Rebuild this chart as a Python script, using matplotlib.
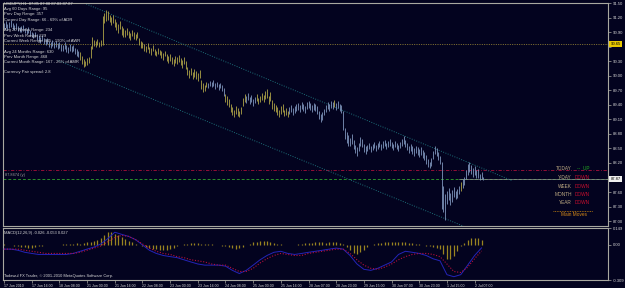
import matplotlib.pyplot as plt
from matplotlib.transforms import blended_transform_factory
import numpy as np

# ---------------- data ----------------
symbol_line = "USDJPY,H1  87.85 87.88 87.83 87.87"
info_lines = [
    ("Avg 60 Days Range: 95", 9),
    ("Prev Day Range: 357", 14.5),
    ("Current Day Range: 66 - 69% of ADR", 20),
    ("Avg 20 Weeks Range: 234", 30),
    ("Prev Week Range: 229", 35.5),
    ("Current Week Range: 445 - 190% of AWR", 41),
    ("Avg 24 Months Range: 630", 51.5),
    ("Prev Month Range: 468", 57),
    ("Current Month Range: 167 - 26% of AMR", 62.5),
    ("Currency Pair spread: 2.8", 72),
]

time_labels = ["17 Jun 2010", "17 Jun 16:00", "18 Jun 08:00", "21 Jun 00:00",
               "21 Jun 16:00", "22 Jun 08:00", "23 Jun 00:00", "23 Jun 16:00",
               "24 Jun 08:00", "25 Jun 00:00", "25 Jun 16:00", "28 Jun 07:00",
               "28 Jun 23:00", "29 Jun 15:00", "30 Jun 07:00", "30 Jun 23:00",
               "1 Jul 15:00", "2 Jul 07:00"]

highs = [
    91.08, 91.12, 91.06, 91.10, 91.14, 91.09, 91.05, 91.08, 91.03, 91.00,
    91.02, 91.05, 90.99, 90.97, 91.00, 90.94, 90.90, 90.88, 90.91, 90.86,
    90.84, 90.80, 90.83, 90.78, 90.75, 90.77, 90.72, 90.70, 90.74, 90.69,
    90.72, 90.68, 90.70, 90.66, 90.64, 90.69, 90.63, 90.60, 90.65, 90.62,
    90.64, 90.58, 90.55, 90.52, 90.48, 90.40, 90.34, 90.30, 90.36, 90.38,
    90.62, 90.79, 90.74, 90.72, 90.75, 90.70, 90.73, 91.24, 91.30, 91.35,
    91.33, 91.26, 91.22, 91.25, 91.18, 91.10, 91.06, 91.12, 91.02, 90.98,
    90.94, 90.98, 90.92, 90.88, 90.95, 90.90, 90.86, 90.91, 90.78, 90.72,
    90.70, 90.66, 90.62, 90.68, 90.60, 90.57, 90.63, 90.55, 90.52, 90.58,
    90.54, 90.50, 90.46, 90.52, 90.44, 90.40, 90.45, 90.38, 90.34, 90.40,
    90.38, 90.42, 90.36, 90.33, 90.39, 90.30, 90.18, 90.12, 90.16, 90.08,
    90.14, 90.10, 90.05, 90.12, 89.92, 89.85, 89.80, 89.88, 89.86, 89.90,
    89.87, 89.91, 89.84, 89.88, 89.82, 89.86, 89.80, 89.75, 89.62, 89.58,
    89.52, 89.42, 89.35, 89.30, 89.38, 89.33, 89.28, 89.36, 89.55, 89.62,
    89.58, 89.64, 89.56, 89.60, 89.52, 89.57, 89.62, 89.55, 89.59, 89.64,
    89.60, 89.68, 89.72, 89.58, 89.66, 89.50, 89.44, 89.40, 89.36, 89.30,
    89.38, 89.42, 89.30, 89.34, 89.28, 89.36, 89.40, 89.33, 89.38, 89.42,
    89.44, 89.40, 89.46, 89.42, 89.38, 89.45, 89.48, 89.43, 89.40, 89.44,
    89.42, 89.38, 89.28, 89.22, 89.26, 89.32, 89.40, 89.46, 89.42, 89.48,
    89.45, 89.50, 89.44, 89.47, 89.42, 89.40, 89.28, 88.92, 88.84, 88.78,
    88.72, 88.80, 88.68, 88.58, 88.52, 88.62, 88.74, 88.70, 88.60, 88.55,
    88.58, 88.62, 88.55, 88.60, 88.64, 88.57, 88.62, 88.66, 88.60, 88.65,
    88.68, 88.62, 88.66, 88.70, 88.64, 88.60, 88.66, 88.62, 88.58, 88.64,
    88.70, 88.75, 88.68, 88.62, 88.56, 88.60, 88.54, 88.50, 88.56, 88.52,
    88.48, 88.52, 88.46, 88.42, 88.36, 88.28, 88.22, 88.30, 88.45, 88.54,
    88.50, 88.42, 88.34, 88.22, 87.72, 87.55, 87.62, 87.68, 87.58, 87.64,
    87.70, 87.62, 87.66, 87.72, 87.80, 87.86, 87.92, 88.06, 88.18, 88.22,
    88.16, 88.10, 88.14, 88.05, 88.08, 87.98, 88.02, 87.92,
]
lows = [
    90.96, 90.98, 90.95, 90.99, 91.01, 90.96, 90.94, 90.97, 90.92, 90.90,
    90.91, 90.93, 90.88, 90.86, 90.89, 90.82, 90.79, 90.77, 90.80, 90.74,
    90.72, 90.68, 90.71, 90.66, 90.63, 90.65, 90.60, 90.58, 90.62, 90.57,
    90.60, 90.55, 90.58, 90.52, 90.50, 90.56, 90.49, 90.47, 90.52, 90.48,
    90.50, 90.45, 90.41, 90.38, 90.33, 90.24, 90.18, 90.20, 90.22, 90.26,
    90.36, 90.55, 90.62, 90.60, 90.63, 90.59, 90.61, 90.63, 91.08, 91.12,
    91.14, 91.10, 91.05, 91.08, 91.00, 90.94, 90.88, 90.96, 90.85, 90.80,
    90.80, 90.84, 90.78, 90.74, 90.82, 90.76, 90.73, 90.77, 90.64, 90.58,
    90.57, 90.52, 90.48, 90.55, 90.46, 90.43, 90.50, 90.42, 90.40, 90.45,
    90.42, 90.36, 90.32, 90.40, 90.30, 90.27, 90.31, 90.24, 90.20, 90.26,
    90.24, 90.28, 90.22, 90.16, 90.25, 90.14, 90.02, 89.96, 90.01, 89.93,
    89.98, 89.94, 89.90, 89.96, 89.72, 89.66, 89.68, 89.76, 89.74, 89.78,
    89.76, 89.79, 89.73, 89.77, 89.71, 89.75, 89.69, 89.58, 89.45, 89.40,
    89.36, 89.25, 89.18, 89.15, 89.22, 89.17, 89.14, 89.22, 89.38, 89.46,
    89.44, 89.50, 89.42, 89.46, 89.38, 89.43, 89.48, 89.41, 89.45, 89.50,
    89.46, 89.52, 89.55, 89.42, 89.48, 89.32, 89.27, 89.25, 89.20, 89.15,
    89.22, 89.26, 89.16, 89.20, 89.14, 89.22, 89.26, 89.19, 89.24, 89.28,
    89.30, 89.26, 89.32, 89.28, 89.24, 89.31, 89.34, 89.29, 89.26, 89.30,
    89.28, 89.22, 89.10, 89.04, 89.08, 89.18, 89.26, 89.32, 89.28, 89.34,
    89.32, 89.36, 89.30, 89.33, 89.28, 89.24, 88.88, 88.70, 88.62, 88.55,
    88.56, 88.60, 88.48, 88.40, 88.35, 88.44, 88.56, 88.52, 88.42, 88.38,
    88.44, 88.48, 88.42, 88.46, 88.50, 88.44, 88.48, 88.52, 88.46, 88.50,
    88.54, 88.48, 88.52, 88.56, 88.50, 88.46, 88.52, 88.48, 88.44, 88.50,
    88.55, 88.60, 88.52, 88.46, 88.40, 88.44, 88.38, 88.34, 88.40, 88.36,
    88.32, 88.36, 88.30, 88.26, 88.18, 88.12, 88.10, 88.14, 88.28, 88.38,
    88.34, 88.26, 88.18, 87.26, 87.18, 87.03, 87.36, 87.44, 87.34, 87.40,
    87.50, 87.45, 87.48, 87.55, 87.62, 87.68, 87.74, 87.86, 87.96, 88.02,
    87.98, 87.92, 87.96, 87.88, 87.90, 87.84, 87.86, 87.84,
]
# bar colour groups: (first bar, last bar exclusive, group)
bar_groups = [(0, 44, "b"), (44, 118, "y"), (118, 128, "b"), (128, 140, "y"),
              (140, 146, "b"), (146, 165, "y"), (165, 191, "b"), (191, 192, "y"),
              (192, 264, "b"), (264, 265, "y"), (265, 278, "b")]

level_yellow = 90.65
level_today = 88.05
level_close = 87.87
# channel lines: (bar, price) endpoints
chan_upper = [(47.5, 91.48), (293.7, 87.835)]
chan_lower = [(31.5, 90.31), (266.0, 86.89)]

status_names = ["TODAY", "Y-DAY", "WEEK", "MONTH", "YEAR"]
status_vals = ["UP", "DOWN", "DOWN", "DOWN", "DOWN"]

macd_main = [
    -0.037, -0.037, -0.047, -0.065, -0.075, -0.084, -0.084, -0.084, -0.084, -0.084,
    -0.075, -0.056, -0.037, -0.019, 0.009, 0.056, 0.112, 0.093, 0.075, 0.047,
    0.000, -0.047, -0.075, -0.093, -0.103, -0.112, -0.131, -0.150, -0.168, -0.178,
    -0.178, -0.178, -0.187, -0.224, -0.252, -0.224, -0.178, -0.131, -0.093, -0.065,
    -0.056, -0.075, -0.084, -0.075, -0.065, -0.056, -0.047, -0.037, -0.028, -0.037,
    -0.093, -0.168, -0.215, -0.224, -0.206, -0.178, -0.150, -0.084, -0.056, -0.065,
    -0.075, -0.093, -0.122, -0.140, -0.262, -0.280, -0.262, -0.178, -0.093, -0.026,
]
macd_signal = [
    -0.037, -0.037, -0.037, -0.047, -0.056, -0.065, -0.075, -0.075, -0.075, -0.075,
    -0.075, -0.065, -0.047, -0.028, -0.009, 0.028, 0.065, 0.084, 0.075, 0.047,
    0.009, -0.028, -0.056, -0.075, -0.084, -0.103, -0.112, -0.131, -0.140, -0.150,
    -0.168, -0.178, -0.178, -0.206, -0.234, -0.234, -0.206, -0.159, -0.121, -0.093,
    -0.075, -0.084, -0.093, -0.093, -0.075, -0.065, -0.056, -0.047, -0.037, -0.037,
    -0.075, -0.131, -0.178, -0.206, -0.215, -0.196, -0.168, -0.131, -0.103, -0.084,
    -0.075, -0.075, -0.084, -0.103, -0.168, -0.234, -0.243, -0.196, -0.121, -0.053,
]
macd_hist = [
    0.004, 0.003, -0.002, -0.006, -0.010, -0.016, -0.022, -0.025, -0.024, -0.018,
    -0.012, -0.008, -0.004, -0.002, 0.002, 0.003, 0.002, 0.004, 0.006, 0.010,
    0.012, 0.014, 0.012, 0.018, 0.024, 0.030, 0.034, 0.042, 0.060, 0.085,
    0.118, 0.112, 0.098, 0.084, 0.070, 0.054, 0.038, 0.022, 0.010, 0.002,
    -0.010, -0.022, -0.030, -0.036, -0.040, -0.044, -0.046, -0.042, -0.034, -0.024,
    -0.012, -0.004, 0.004, 0.010, 0.014, 0.016, 0.014, 0.012, 0.010, 0.008,
    0.004, 0.000, -0.004, -0.008, -0.012, -0.022, -0.030, -0.034, -0.030, -0.018,
    -0.004, 0.010, 0.022, 0.030, 0.036, 0.038, 0.034, 0.028, 0.020, 0.012,
    0.006, 0.002, -0.002, -0.004, 0.000, 0.006, 0.010, 0.014, 0.018, 0.020,
    0.022, 0.024, 0.022, 0.020, 0.024, 0.026, 0.022, 0.016, 0.006, -0.020,
    -0.048, -0.070, -0.078, -0.066, -0.044, -0.020, 0.000, 0.010, 0.016, 0.020,
    0.024, 0.026, 0.028, 0.030, 0.028, 0.026, 0.024, 0.020, 0.016, 0.010,
    0.004, -0.002, -0.008, -0.012, -0.020, -0.030, -0.040, -0.080, -0.120, -0.128,
    -0.100, -0.050, -0.010, 0.020, 0.045, 0.062, 0.065, 0.058, 0.040,
]
macd_label = "MACD(12,26,9) -0.026 -0.053 0.027"
copyright_txt = "Tadawul FX Trader, \u00a9 2001-2010 MetaQuotes Software Corp."

# ---------------- style ----------------
BG = "#03031f"
GRID = "#a8a8a0"
TXT = "#d8d8d8"
BLUE_BAR = "#7f96bc"
YEL_BAR = "#aea447"
plt.rcParams["font.family"] = ["Liberation Sans Narrow", "Liberation Sans", "DejaVu Sans"]

W, H = 625, 288
fig = plt.figure(figsize=(W / 100, H / 100), dpi=100, facecolor=BG)


def box(x0, y0, x1, y1):
    return [x0 / W, 1 - y1 / H, (x1 - x0) / W, (y1 - y0) / H]


def ftext(x, y, s, **kw):
    fig.text(x / W, 1 - y / H, s, va="center", **kw)


ax = fig.add_axes(box(3, 3, 608, 226))
am = fig.add_axes(box(3, 228, 608, 280), sharex=ax)
for a in (ax, am):
    a.set_facecolor(BG)
    for s in a.spines.values():
        s.set_color(GRID)
        s.set_linewidth(0.8)
    a.yaxis.tick_right()
    a.tick_params(axis="y", length=2, width=0.5, color=GRID, labelsize=3.0,
                  labelcolor=TXT, pad=1.5)

# price bars
n = len(highs)
idx = np.arange(n)
cols = []
for a0, a1, g in bar_groups:
    cols += [BLUE_BAR if g == "b" else YEL_BAR] * (a1 - a0)
ax.vlines(idx, lows, highs, colors=cols, lw=0.6, zorder=3)

ax.set_xlim(-0.6, 349.1)
ax.set_ylim(86.90, 91.50)
yt = np.arange(87.0, 91.51, 0.30)
ax.set_yticks(yt)
# labels hidden under the two highlighted price boxes are left blank
ax.set_yticklabels(["" if min(abs(v - level_yellow), abs(v - level_close)) < 0.08
                    else f"{v:.2f}" for v in yt])
ax.tick_params(axis="x", bottom=False, labelbottom=False)

# levels
ax.axhline(level_yellow, color="#a08c36", lw=0.6, ls=(0, (1.2, 1.6)), zorder=2)
ax.axhline(level_today, color="#a8103a", lw=0.6, ls=(0, (4, 2, 1, 2)), zorder=2)
ax.axhline(level_close, color="#2a8f2a", lw=0.7, ls=(0, (3, 2)), zorder=2)
ax.plot([263, 349.1], [level_close, level_close], color="#909090", lw=0.5, zorder=2)

for c in (chan_upper, chan_lower):
    ax.plot([c[0][0], c[1][0]], [c[0][1], c[1][1]], color="#1d6e78", lw=0.7,
            ls=(0, (1, 1.5)), zorder=2)

# highlighted price labels
tr = blended_transform_factory(ax.transAxes, ax.transData)
ax.text(1.004, level_yellow, f"{level_yellow:.2f}", transform=tr, fontsize=3.0,
        color="#000000", va="center", ha="left", zorder=5,
        bbox=dict(boxstyle="square,pad=0.25", fc="#e8c800", ec="none"))
ax.text(1.004, level_close, f"{level_close:.2f}", transform=tr, fontsize=3.0,
        color="#000000", va="center", ha="left", zorder=5,
        bbox=dict(boxstyle="square,pad=0.25", fc="#f0f0f0", ec="none"))

# info text
ftext(4, 3.5, symbol_line, fontsize=3.0, color=TXT)
for s, y in info_lines:
    ftext(4, y, s, fontsize=3.0, color=TXT)
ftext(5, 175, "87.8474 (y)", fontsize=2.8, color="#a0a0a0")

# status block
sy = [168, 177.5, 186, 194.5, 203]
for name, val, y in zip(status_names, status_vals, sy):
    ftext(572, y, name, fontsize=3.4, color="#c0ac84", ha="right")
    if val == "UP":
        ftext(577, y, "--  UP", fontsize=3.4, color="#22a822", ha="left")
    else:
        ftext(575, y, val, fontsize=3.4, color="#c80e2e", ha="left")
fig.add_artist(plt.Line2D([553 / W, 593 / W], [1 - 210.5 / H] * 2, color="#c88410",
                          lw=0.6, ls=(0, (1, 1))))
ftext(561, 214.5, "Main Moves", fontsize=3.4, color="#d88a16")

# MACD panel
mx = np.arange(len(macd_main)) * 4
hx = np.arange(len(macd_hist)) * 2
am.vlines(hx, 0, macd_hist, colors="#9a8420", lw=0.9, zorder=2)
am.plot(mx, macd_main, color="#2424b8", lw=0.7, zorder=3)
am.plot(mx, macd_signal, color="#b80e3c", lw=0.8, ls=(0, (1, 1.5)), zorder=3)
am.set_ylim(-0.309, 0.149)
am.set_yticks([-0.309, 0.0, 0.149])
am.set_yticklabels(["-0.309", "0.00", "0.149"])
ticks = np.arange(len(time_labels)) * 16
am.set_xticks(ticks)
am.set_xticklabels(time_labels)
am.tick_params(axis="x", length=2, width=0.5, color=GRID, labelsize=2.5,
               labelcolor=TXT, pad=1)
for lab in am.get_xticklabels():
    lab.set_ha("left")
ftext(4, 233, macd_label, fontsize=2.9, color=TXT)
ftext(4, 276, copyright_txt, fontsize=2.9, color=TXT)

fig.savefig("out.png", dpi=100, facecolor=BG)
